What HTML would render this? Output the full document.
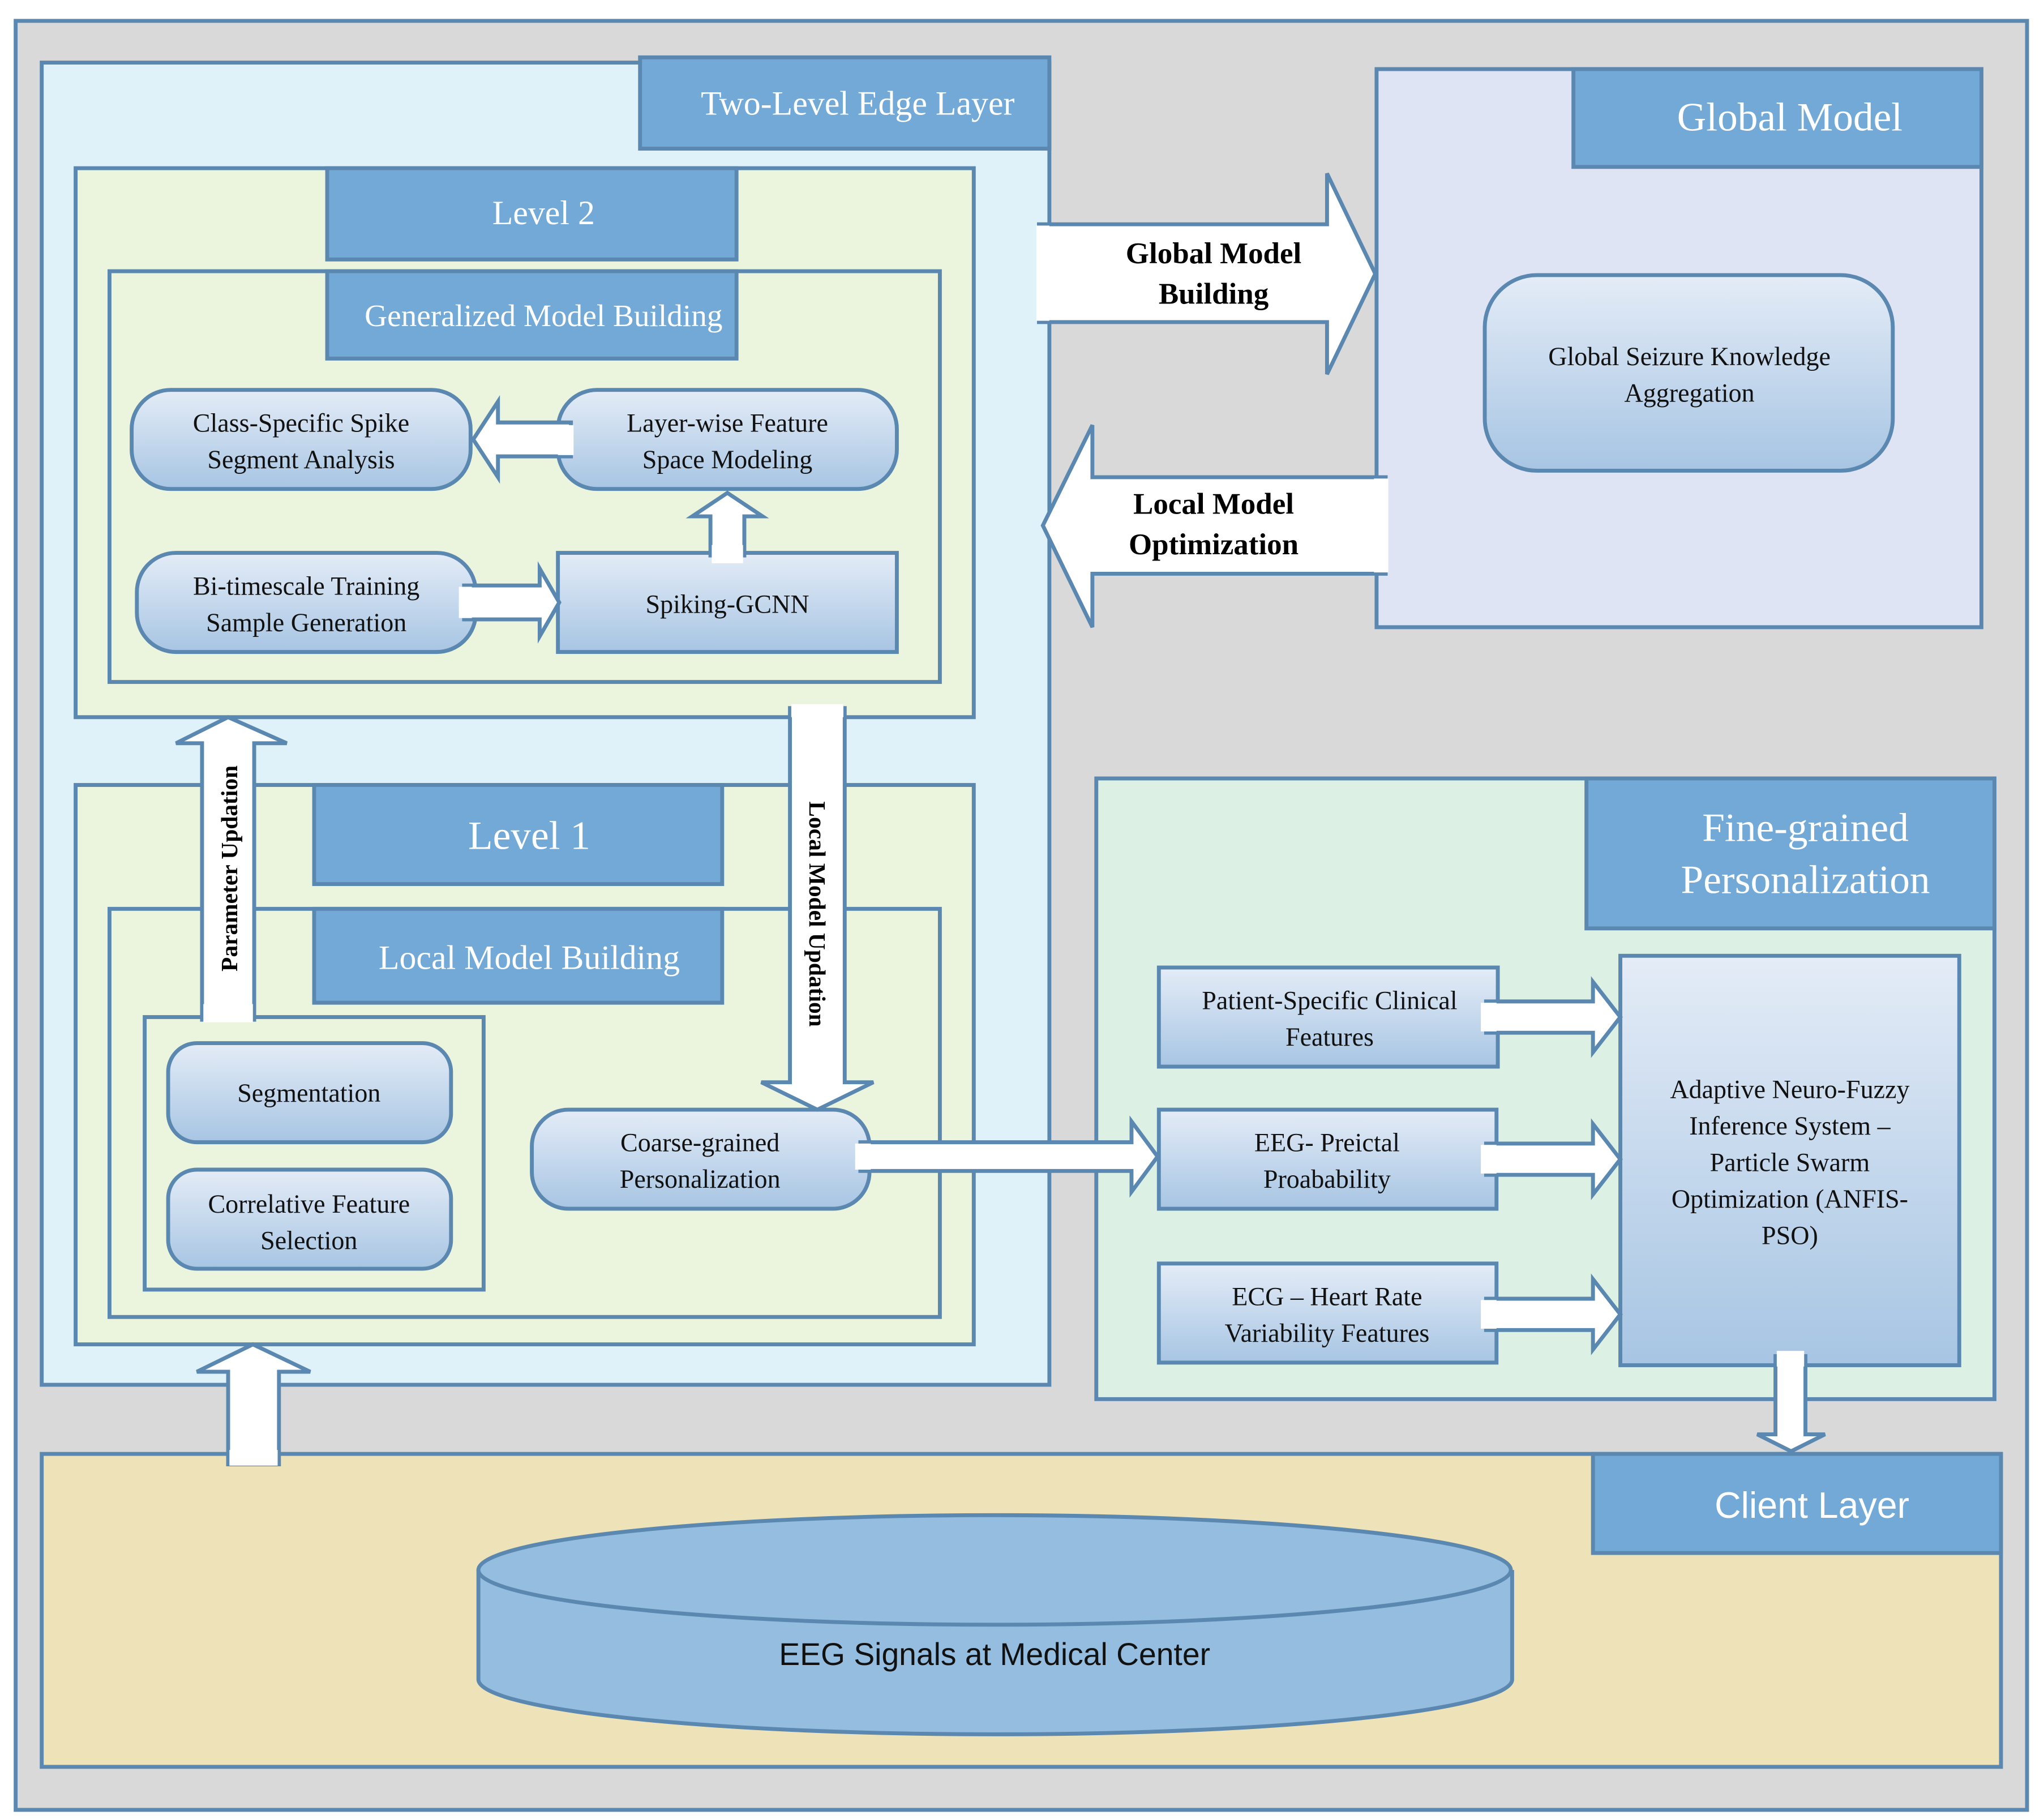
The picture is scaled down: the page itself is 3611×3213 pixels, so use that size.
<!DOCTYPE html>
<html><head><meta charset="utf-8"><style>
html,body{margin:0;padding:0;background:#fff}
svg{display:block}
text{font-family:"Liberation Serif",serif}
</style></head><body>
<svg width="3611" height="3213" viewBox="0 0 1568 1395" preserveAspectRatio="none" xmlns="http://www.w3.org/2000/svg">
<defs>
<linearGradient id="g" x1="0" y1="0" x2="0" y2="1"><stop offset="0" stop-color="#e4ecf7"/><stop offset="1" stop-color="#a7c5e3"/></linearGradient>
</defs>
<g stroke="#5b88b0" stroke-width="3">
<rect x="12" y="16" width="1543" height="1372" fill="#d9d9d9"/>
<rect x="32" y="48" width="773" height="1014" fill="#e0f2f9"/>
<rect x="58" y="129" width="689" height="421" fill="#ebf4dc"/>
<rect x="84" y="208" width="637" height="315" fill="#ebf4dc"/>
<rect x="58" y="602" width="689" height="429" fill="#ebf4dc"/>
<rect x="84" y="697" width="637" height="313" fill="#ebf4dc"/>
<rect x="111" y="780" width="260" height="209" fill="#ebf4dc"/>
<rect x="1056" y="53" width="464" height="428" fill="#dfe4f5"/>
<rect x="841" y="597" width="689" height="476" fill="#dcf0e4"/>
<rect x="32" y="1115" width="1503" height="240" fill="#eee2b8"/>
</g>
<g fill="#73a9d7" stroke="#5b88b0" stroke-width="3">
<rect x="491" y="44" width="314" height="70"/>
<rect x="251" y="129" width="314" height="70"/>
<rect x="251" y="208" width="314" height="67"/>
<rect x="241" y="602" width="313" height="76"/>
<rect x="241" y="697" width="313" height="72"/>
<rect x="1207" y="53" width="313" height="75"/>
<rect x="1217" y="597" width="313" height="115"/>
<rect x="1222" y="1115" width="313" height="76"/>
</g>
<g fill="#fff" font-size="26" text-anchor="middle">
<text x="658" y="88">Two-Level Edge Layer</text>
<text x="417" y="172">Level 2</text>
<text x="417" y="250" font-size="24">Generalized Model Building</text>
<text x="406" y="651" font-size="31">Level 1</text>
<text x="406" y="743" font-size="26">Local Model Building</text>
<text x="1373" y="100" font-size="31">Global Model</text>
<text x="1385" y="645" font-size="31">Fine-grained</text>
<text x="1385" y="685" font-size="31">Personalization</text>
<text x="1390" y="1164" font-size="28" style="font-family:'Liberation Sans',sans-serif">Client Layer</text>
</g>
<g fill="url(#g)" stroke="#5b88b0" stroke-width="3">
<rect x="101" y="299" width="260" height="76" rx="30"/>
<rect x="428" y="299" width="260" height="76" rx="30"/>
<rect x="105" y="424" width="260" height="76" rx="30"/>
<rect x="428" y="424" width="260" height="76"/>
<rect x="129" y="800" width="217" height="76" rx="22"/>
<rect x="129" y="897" width="217" height="76" rx="22"/>
<rect x="408" y="851" width="259" height="76" rx="28"/>
<rect x="1139" y="211" width="313" height="150" rx="40"/>
<rect x="889" y="742" width="260" height="76"/>
<rect x="889" y="851" width="259" height="76"/>
<rect x="889" y="969" width="259" height="76"/>
<rect x="1243" y="733" width="260" height="314"/>
</g>
<g font-size="20" text-anchor="middle" fill="#111">
<text x="231" y="331">Class-Specific Spike</text><text x="231" y="359">Segment Analysis</text>
<text x="558" y="331">Layer-wise Feature</text><text x="558" y="359">Space Modeling</text>
<text x="235" y="456">Bi-timescale Training</text><text x="235" y="484">Sample Generation</text>
<text x="558" y="470">Spiking-GCNN</text>
<text x="237" y="845">Segmentation</text>
<text x="237" y="930">Correlative Feature</text><text x="237" y="958">Selection</text>
<text x="537" y="883">Coarse-grained</text><text x="537" y="911">Personalization</text>
<text x="1296" y="280">Global Seizure Knowledge</text><text x="1296" y="308">Aggregation</text>
<text x="1020" y="774">Patient-Specific Clinical</text><text x="1020" y="802">Features</text>
<text x="1018" y="883">EEG- Preictal</text><text x="1018" y="911">Proabability</text>
<text x="1018" y="1001">ECG – Heart Rate</text><text x="1018" y="1029">Variability Features</text>
<text x="1373" y="842">Adaptive Neuro-Fuzzy</text><text x="1373" y="870">Inference System –</text>
<text x="1373" y="898">Particle Swarm</text><text x="1373" y="926">Optimization (ANFIS-</text><text x="1373" y="954">PSO)</text>
</g>
<g fill="#fff" stroke="#5b88b0" stroke-width="3" stroke-linejoin="miter">
<polygon points="438,324 382,324 382,308 363,337 382,366 382,350 438,350"/>
<polygon points="545,426 545,396 531,396 558,378 585,396 571,396 571,426"/>
<polygon points="356,449 414,449 414,436 429,462 414,488 414,475 356,475"/>
<polygon points="155,782 155,570 135,570 175,550 220,570 195,570 195,782"/>
<polygon points="606,543 606,830 584,830 627,851 670,830 648,830 648,543"/>
<polygon points="797,172 1018,172 1018,133 1055,210 1018,287 1018,247 797,247"/>
<polygon points="1063,366 838,366 838,326 800,403 838,481 838,440 1063,440"/>
<polygon points="660,876 868,876 868,860 888,887 868,914 868,898 660,898"/>
<polygon points="1140,768 1222,768 1222,753 1243,780 1222,807 1222,792 1140,792"/>
<polygon points="1140,877 1222,877 1222,862 1243,889 1222,916 1222,901 1140,901"/>
<polygon points="1140,996 1222,996 1222,981 1243,1008 1222,1035 1222,1020 1140,1020"/>
<polygon points="1362,1040 1362,1100 1348,1100 1374,1113 1400,1100 1385,1100 1385,1040"/>
<polygon points="175,1123 175,1052 151,1052 194,1031 238,1052 214,1052 214,1123"/>
</g>
<g fill="#fff">
<rect x="428" y="326" width="12" height="23"/>
<rect x="546" y="418" width="24" height="14"/>
<rect x="352" y="450" width="10" height="24"/>
<rect x="156" y="770" width="38" height="14"/>
<rect x="607" y="540" width="40" height="10"/>
<rect x="795" y="173" width="10" height="73"/>
<rect x="1054" y="367" width="11" height="72"/>
<rect x="656" y="877" width="12" height="20"/>
<rect x="1136" y="769" width="12" height="22"/>
<rect x="1136" y="878" width="12" height="22"/>
<rect x="1136" y="997" width="12" height="22"/>
<rect x="1363" y="1036" width="21" height="12"/>
<rect x="176" y="1112" width="37" height="12"/>
</g>
<g font-size="23" font-weight="bold" text-anchor="middle" fill="#000">
<text x="931" y="202">Global Model</text><text x="931" y="233">Building</text>
<text x="931" y="394">Local Model</text><text x="931" y="425">Optimization</text>
</g>
<text transform="translate(182,666) rotate(-90)" font-size="18" font-weight="bold" text-anchor="middle">Parameter Updation</text>
<text transform="translate(621,701) rotate(90)" font-size="18" font-weight="bold" text-anchor="middle">Local Model Updation</text>
<g fill="#95bde0" stroke="#5b88b0" stroke-width="3">
<path d="M367,1204 L367,1288 A396,42 0 0 0 1160,1288 L1160,1204"/>
<ellipse cx="763" cy="1204" rx="396" ry="42"/>
</g>
<text x="763" y="1277" font-size="24" text-anchor="middle" style="font-family:'Liberation Sans',sans-serif" fill="#111">EEG Signals at Medical Center</text>
</svg>
</body></html>
